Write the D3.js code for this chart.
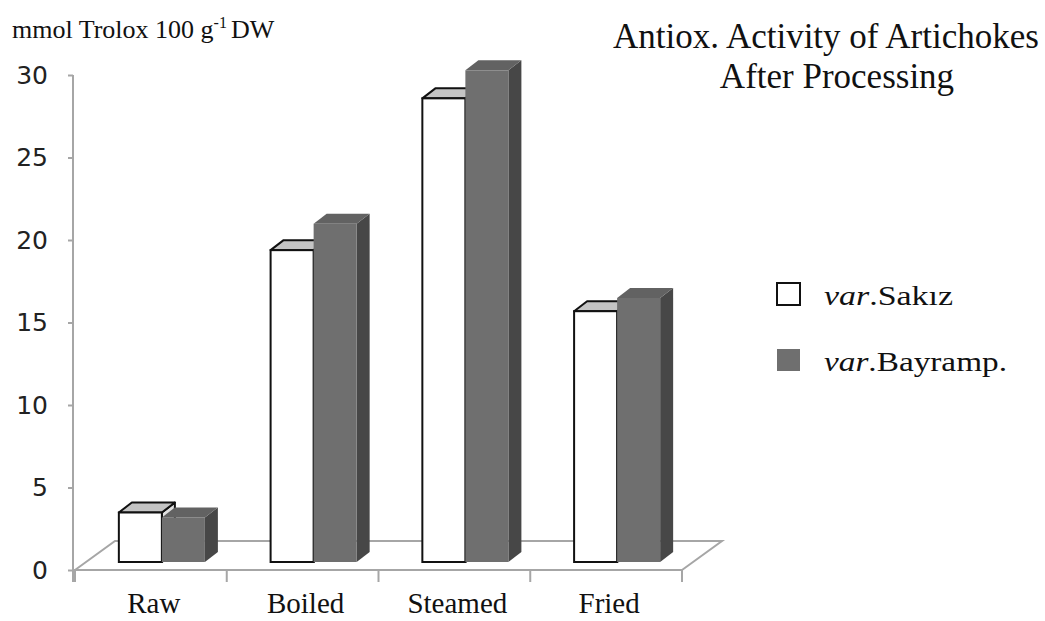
<!DOCTYPE html>
<html>
<head>
<meta charset="utf-8">
<script src="https://cdn.jsdelivr.net/npm/d3@7"></script>
<style>
  body { margin: 0; background: #fff; }
  svg { display: block; }
</style>
</head>
<body>
<svg></svg>
<script>
// data
const categories = ["Raw", "Boiled", "Steamed", "Fried"];
const seriesNames = ["var.Sakız", "var.Bayramp."];
const sakiz = [3.0, 18.9, 28.1, 15.2];
const bayramp = [2.7, 20.5, 29.8, 16.0];
const yTicks = [0, 5, 10, 15, 20, 25, 30];

const w = 1045, h = 621;
const svg = d3.select("svg").attr("width", w).attr("height", h);

// floor depth and bar depth (pseudo 3D)
const floorDx = 40, floorDy = -29;
const barOffX = 11, barOffY = -8;
const depthX = 13, depthY = -10;

const yScale = d3.scaleLinear().domain([0, 30]).range([570, 75]);
const xBand = d3.scaleBand()
    .domain(categories)
    .range([75, 682])
    .paddingInner(0.433)
    .paddingOuter(0.2165);
const inner = d3.scaleBand()
    .domain(seriesNames)
    .range([0, xBand.bandwidth()]);

const axisColor = "#a6a6a6";

// floor
const y0 = yScale(0);
svg.append("path")
  .attr("d", `M75,${y0} L${75 + floorDx},${y0 + floorDy} L${682 + floorDx},${y0 + floorDy} L682,${y0}`)
  .attr("fill", "none")
  .attr("stroke", axisColor)
  .attr("stroke-width", 2);

// y axis
const yAxisG = svg.append("g")
  .attr("transform", "translate(73,0)")
  .call(d3.axisLeft(yScale).tickValues(yTicks).tickSize(5).tickPadding(20));
yAxisG.select(".domain").remove();
yAxisG.selectAll(".tick line").attr("stroke", axisColor).attr("stroke-width", 2);
yAxisG.selectAll(".tick text")
  .attr("font-family", "DejaVu Sans")
  .attr("font-size", 25)
  .attr("fill", "#222");
svg.append("line")
  .attr("x1", 73).attr("x2", 73)
  .attr("y1", yScale(30)).attr("y2", y0 + 12)
  .attr("stroke", axisColor).attr("stroke-width", 2);

// x axis ticks at category boundaries
const bounds = categories.map(c => xBand(c) - xBand.step() * xBand.paddingInner() / 2);
bounds[0] = 75;
bounds.push(682);
svg.selectAll(".xtick")
  .data(bounds)
  .enter()
  .append("line")
  .attr("x1", d => d).attr("x2", d => d)
  .attr("y1", y0).attr("y2", y0 + 12)
  .attr("stroke", axisColor).attr("stroke-width", 2);

svg.append("line")
  .attr("x1", 73).attr("x2", 682)
  .attr("y1", y0).attr("y2", y0)
  .attr("stroke", axisColor).attr("stroke-width", 2);

svg.selectAll(".xlabel")
  .data(categories)
  .enter()
  .append("text")
  .attr("x", d => xBand(d) + xBand.bandwidth() / 2 + 3)
  .attr("y", 613)
  .attr("text-anchor", "middle")
  .attr("font-family", "Liberation Serif")
  .attr("font-size", 29)
  .attr("fill", "#111")
  .text(d => d);

// bars
const styles = [
  { front: "#ffffff", top: "#c4c4c4", side: "#e0e0e0", stroke: "#111", sw: 2 },
  { front: "#6f6f6f", top: "#626262", side: "#474747", stroke: "none", sw: 0 }
];

function drawBar(g, x0, x1, v, st) {
  const yb = yScale(0) + barOffY;
  const yt = yScale(v) + barOffY;
  g.append("path")
    .attr("d", `M${x1},${yt} L${x1 + depthX},${yt + depthY} L${x1 + depthX},${yb + depthY} L${x1},${yb} Z`)
    .attr("fill", st.side).attr("stroke", st.stroke).attr("stroke-width", st.sw)
    .attr("stroke-linejoin", "round");
  g.append("path")
    .attr("d", `M${x0},${yt} L${x0 + depthX},${yt + depthY} L${x1 + depthX},${yt + depthY} L${x1},${yt} Z`)
    .attr("fill", st.top).attr("stroke", st.stroke).attr("stroke-width", st.sw)
    .attr("stroke-linejoin", "round");
  g.append("rect")
    .attr("x", x0).attr("y", yt)
    .attr("width", x1 - x0).attr("height", yb - yt)
    .attr("fill", st.front).attr("stroke", st.stroke).attr("stroke-width", st.sw);
}

const barsG = svg.append("g");
categories.forEach(function(c, i) {
  [sakiz, bayramp].forEach(function(vals, s) {
    const x0 = xBand(c) + barOffX + inner(seriesNames[s]);
    drawBar(barsG, x0, x0 + inner.bandwidth(), vals[i], styles[s]);
  });
});

// y unit label
const unit = svg.append("text")
  .attr("x", 12).attr("y", 38)
  .attr("font-family", "Liberation Serif")
  .attr("font-size", 26)
  .attr("fill", "#111");
unit.append("tspan").text("mmol Trolox 100 g");
unit.append("tspan").attr("font-size", 16).attr("dy", -10).text("-1");
unit.append("tspan").attr("dy", 10).attr("dx", 4).text("DW");

// title
const title = svg.append("text")
  .attr("font-family", "Liberation Serif")
  .attr("font-size", 35)
  .attr("fill", "#111")
  .attr("text-anchor", "middle");
title.append("tspan").attr("x", 826).attr("y", 48).text("Antiox. Activity of Artichokes");
title.append("tspan").attr("x", 837).attr("y", 88).text("After  Processing");

// legend
const legend = svg.append("g");
const legendY = [294, 360];
const legendW = [129, 183];
seriesNames.forEach(function(name, s) {
  legend.append("rect")
    .attr("x", 777).attr("y", legendY[s] - 11)
    .attr("width", 23).attr("height", 22)
    .attr("fill", styles[s].front)
    .attr("stroke", s === 0 ? "#111" : "none")
    .attr("stroke-width", 2);
  const t = legend.append("text")
    .attr("x", 824).attr("y", legendY[s] + 11)
    .attr("font-family", "Liberation Serif")
    .attr("font-size", 28)
    .attr("fill", "#111")
    .attr("textLength", legendW[s])
    .attr("lengthAdjust", "spacingAndGlyphs");
  t.append("tspan").attr("font-style", "italic").text("var");
  t.append("tspan").text(name.slice(3));
});
</script>
</body>
</html>
